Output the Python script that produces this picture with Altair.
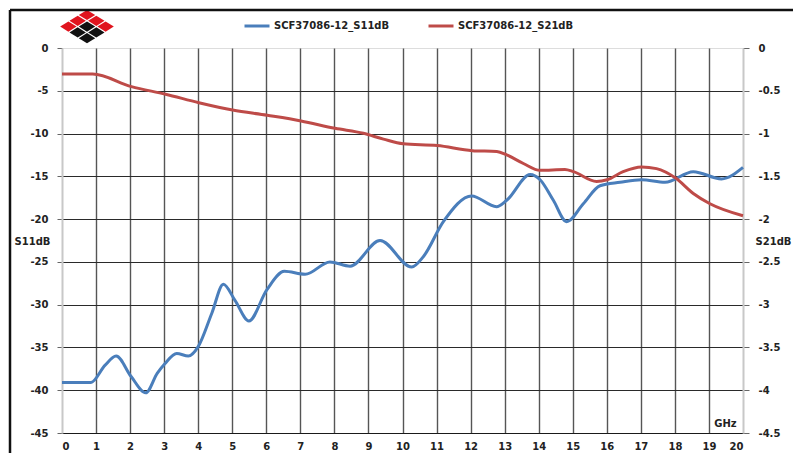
import altair as alt
import pandas as pd

S11_NAME = "SCF37086-12_S11dB"
S21_NAME = "SCF37086-12_S21dB"

# S11 (left axis, dB)
freq_s11 = [0, 0.85, 1.26, 1.59, 2.03, 2.46, 2.8, 3.02, 3.37, 3.71, 4.0, 4.4, 4.74, 5.08,
            5.49, 6.01, 6.53, 7.14, 7.87, 8.46, 9.34, 10.27, 10.61, 11.2, 12.03, 12.76,
            13.06, 13.75, 14.04, 14.43, 14.82, 15.31, 15.8, 16.39, 17.02, 17.71, 18.54,
            19.37, 20.0]
s11 = [-39.1, -39.1, -37.1, -36.0, -38.4, -40.3, -38.0, -36.9, -35.7, -36.0, -34.9, -31.0,
       -27.6, -29.5, -31.9, -28.3, -26.1, -26.45, -25.0, -25.5, -22.5, -25.6, -24.4, -20.3,
       -17.3, -18.55, -17.8, -14.8, -15.4, -17.8, -20.3, -18.2, -16.1, -15.7, -15.4, -15.7,
       -14.45, -15.3, -13.95]

# S21 (right axis, dB)
freq_s21 = [0, 0.9, 2.04, 3.04, 4.02, 5.01, 6.03, 7.02, 8.02, 8.85, 9.44, 10.02, 11.02,
            12.05, 12.77, 13.06, 13.55, 14.04, 14.77, 15.02, 15.7, 16.01, 16.48, 17.02,
            17.46, 18.02, 18.54, 19.03, 20.0]
s21 = [-0.304, -0.304, -0.452, -0.54, -0.639, -0.725, -0.787, -0.853, -0.939, -0.997,
       -1.065, -1.12, -1.14, -1.20, -1.21, -1.25, -1.35, -1.43, -1.42, -1.445, -1.56,
       -1.54, -1.445, -1.39, -1.41, -1.52, -1.70, -1.82, -1.96]

x_ticks = list(range(0, 21))
left_ticks = [0, -5, -10, -15, -20, -25, -30, -35, -40, -45]
right_ticks = [0, -0.5, -1, -1.5, -2, -2.5, -3, -3.5, -4, -4.5]

# logo cells (row, col) of a rotated 3x3 grid
logo_i = [0, 0, 0, 1, 1, 1, 2, 2, 2]
logo_j = [0, 1, 2, 0, 1, 2, 0, 1, 2]

# picture frame edges (only top and left edges visible)
frame_edge = ["left", "top"]

FONT = "DejaVu Sans"
TXT = "#222222"

df11 = pd.DataFrame({"f": freq_s11, "v": s11, "series": S11_NAME})
df21 = pd.DataFrame({"f": freq_s21, "v": s21, "series": S21_NAME})
logo_df = pd.DataFrame({"i": logo_i, "j": logo_j})
frame_df = pd.DataFrame({"edge": frame_edge})

color = alt.Color(
    "series:N",
    scale=alt.Scale(domain=[S11_NAME, S21_NAME], range=["#4A7EBB", "#BE4B48"]),
    legend=alt.Legend(
        orient="none", legendX=181, legendY=-36, direction="horizontal", title=None,
        symbolType="stroke", symbolSize=625, symbolStrokeWidth=3, labelOffset=3,
        columnPadding=32, padding=0, labelFont=FONT, labelFontSize=10,
        labelFontWeight="bold", labelColor=TXT, labelLimit=300,
    ),
)

x_enc = alt.X(
    "f:Q",
    scale=alt.Scale(domain=[0, 20], nice=False, zero=False),
    axis=alt.Axis(
        values=x_ticks, title="GHz", titleX=663, titleY=-10, titleAngle=0,
        titleAlign="center", titleBaseline="middle", titleFont=FONT, titleFontSize=10,
        titleFontWeight="bold", titleColor=TXT, ticks=False, labelPadding=8,
        labelFont=FONT, labelFontSize=10, labelFontWeight="bold", labelColor=TXT,
        domainColor="#1a1a1a", domainWidth=1.2, grid=True,
        gridColor=alt.condition("datum.value == 0 || datum.value == 20",
                                alt.value("transparent"), alt.value("#555555")),
        gridWidth=1.4,
    ),
)

y_left = alt.Y(
    "v:Q",
    scale=alt.Scale(domain=[-45, 0], nice=False, zero=False),
    axis=alt.Axis(
        values=left_ticks, title="S11dB", titleAngle=0, titleX=-30, titleY=193,
        titleAlign="center", titleBaseline="middle", titleFont=FONT, titleFontSize=10,
        titleFontWeight="bold", titleColor=TXT, tickSize=5, tickColor="#666666",
        labelPadding=9, labelFont=FONT, labelFontSize=10, labelFontWeight="bold",
        labelColor=TXT, labelExpr="'' + datum.value", domainColor="#c8c8c8",
        domainWidth=2, grid=True,
        gridColor=alt.condition("datum.value == 0", alt.value("transparent"),
                                alt.value("#2a2a2a")),
        gridWidth=1.2,
    ),
)

y_right = alt.Y(
    "v:Q",
    scale=alt.Scale(domain=[-4.5, 0], nice=False, zero=False),
    axis=alt.Axis(
        orient="right", values=right_ticks, title="S21dB", titleAngle=0, titleX=30,
        titleY=193, titleAlign="center", titleBaseline="middle", titleFont=FONT,
        titleFontSize=10, titleFontWeight="bold", titleColor=TXT, tickSize=6,
        tickColor="#666666", labelPadding=9, labelFont=FONT, labelFontSize=10,
        labelFontWeight="bold", labelColor=TXT, labelExpr="'' + datum.value",
        domainColor="#c8c8c8", domainWidth=2, grid=False,
    ),
)

blue = alt.Chart(df11).mark_line(interpolate="monotone", strokeWidth=3).encode(
    x=x_enc, y=y_left, color=color)
red = alt.Chart(df21).mark_line(interpolate="monotone", strokeWidth=3).encode(
    x=x_enc, y=y_right, color=color)

diamond = "M0,-0.62L1,0L0,0.62L-1,0Z"
logo_base = alt.Chart(logo_df).transform_calculate(
    px="25 + (datum.j - datum.i) * 9.3",
    py="-33 + (datum.i + datum.j) * 5.8",
)
logo_red = logo_base.transform_filter("datum.i == 0 || datum.j == 0").mark_point(
    shape=diamond, filled=True, size=270, opacity=1, color="#e0141e", strokeWidth=0
).encode(x=alt.X("px:Q", scale=None, axis=None), y=alt.Y("py:Q", scale=None, axis=None))
logo_black = logo_base.transform_filter("datum.i > 0 && datum.j > 0").mark_point(
    shape=diamond, filled=True, size=270, opacity=1, color="#111111", strokeWidth=0
).encode(x=alt.X("px:Q", scale=None, axis=None), y=alt.Y("py:Q", scale=None, axis=None))

frame = alt.Chart(frame_df).transform_calculate(
    fx1="-52",
    fx2="datum.edge == 'left' ? -52 : 760",
    fy1="-38",
    fy2="datum.edge == 'left' ? 420 : -38",
).mark_rule(color="#111111", strokeWidth=2.5).encode(
    x=alt.X("fx1:Q", scale=None, axis=None),
    x2="fx2:Q",
    y=alt.Y("fy1:Q", scale=None, axis=None),
    y2="fy2:Q",
)

chart = alt.layer(blue, red, logo_red, logo_black, frame).resolve_scale(
    y="independent"
).properties(
    width=681, height=385,
    autosize=alt.AutoSizeParams(type="none"),
    padding={"left": 54, "top": 40, "right": 50, "bottom": 20},
).configure_view(stroke=None).configure(background="white")

chart.save("out.html", embed_options={"renderer": "svg", "actions": False})
